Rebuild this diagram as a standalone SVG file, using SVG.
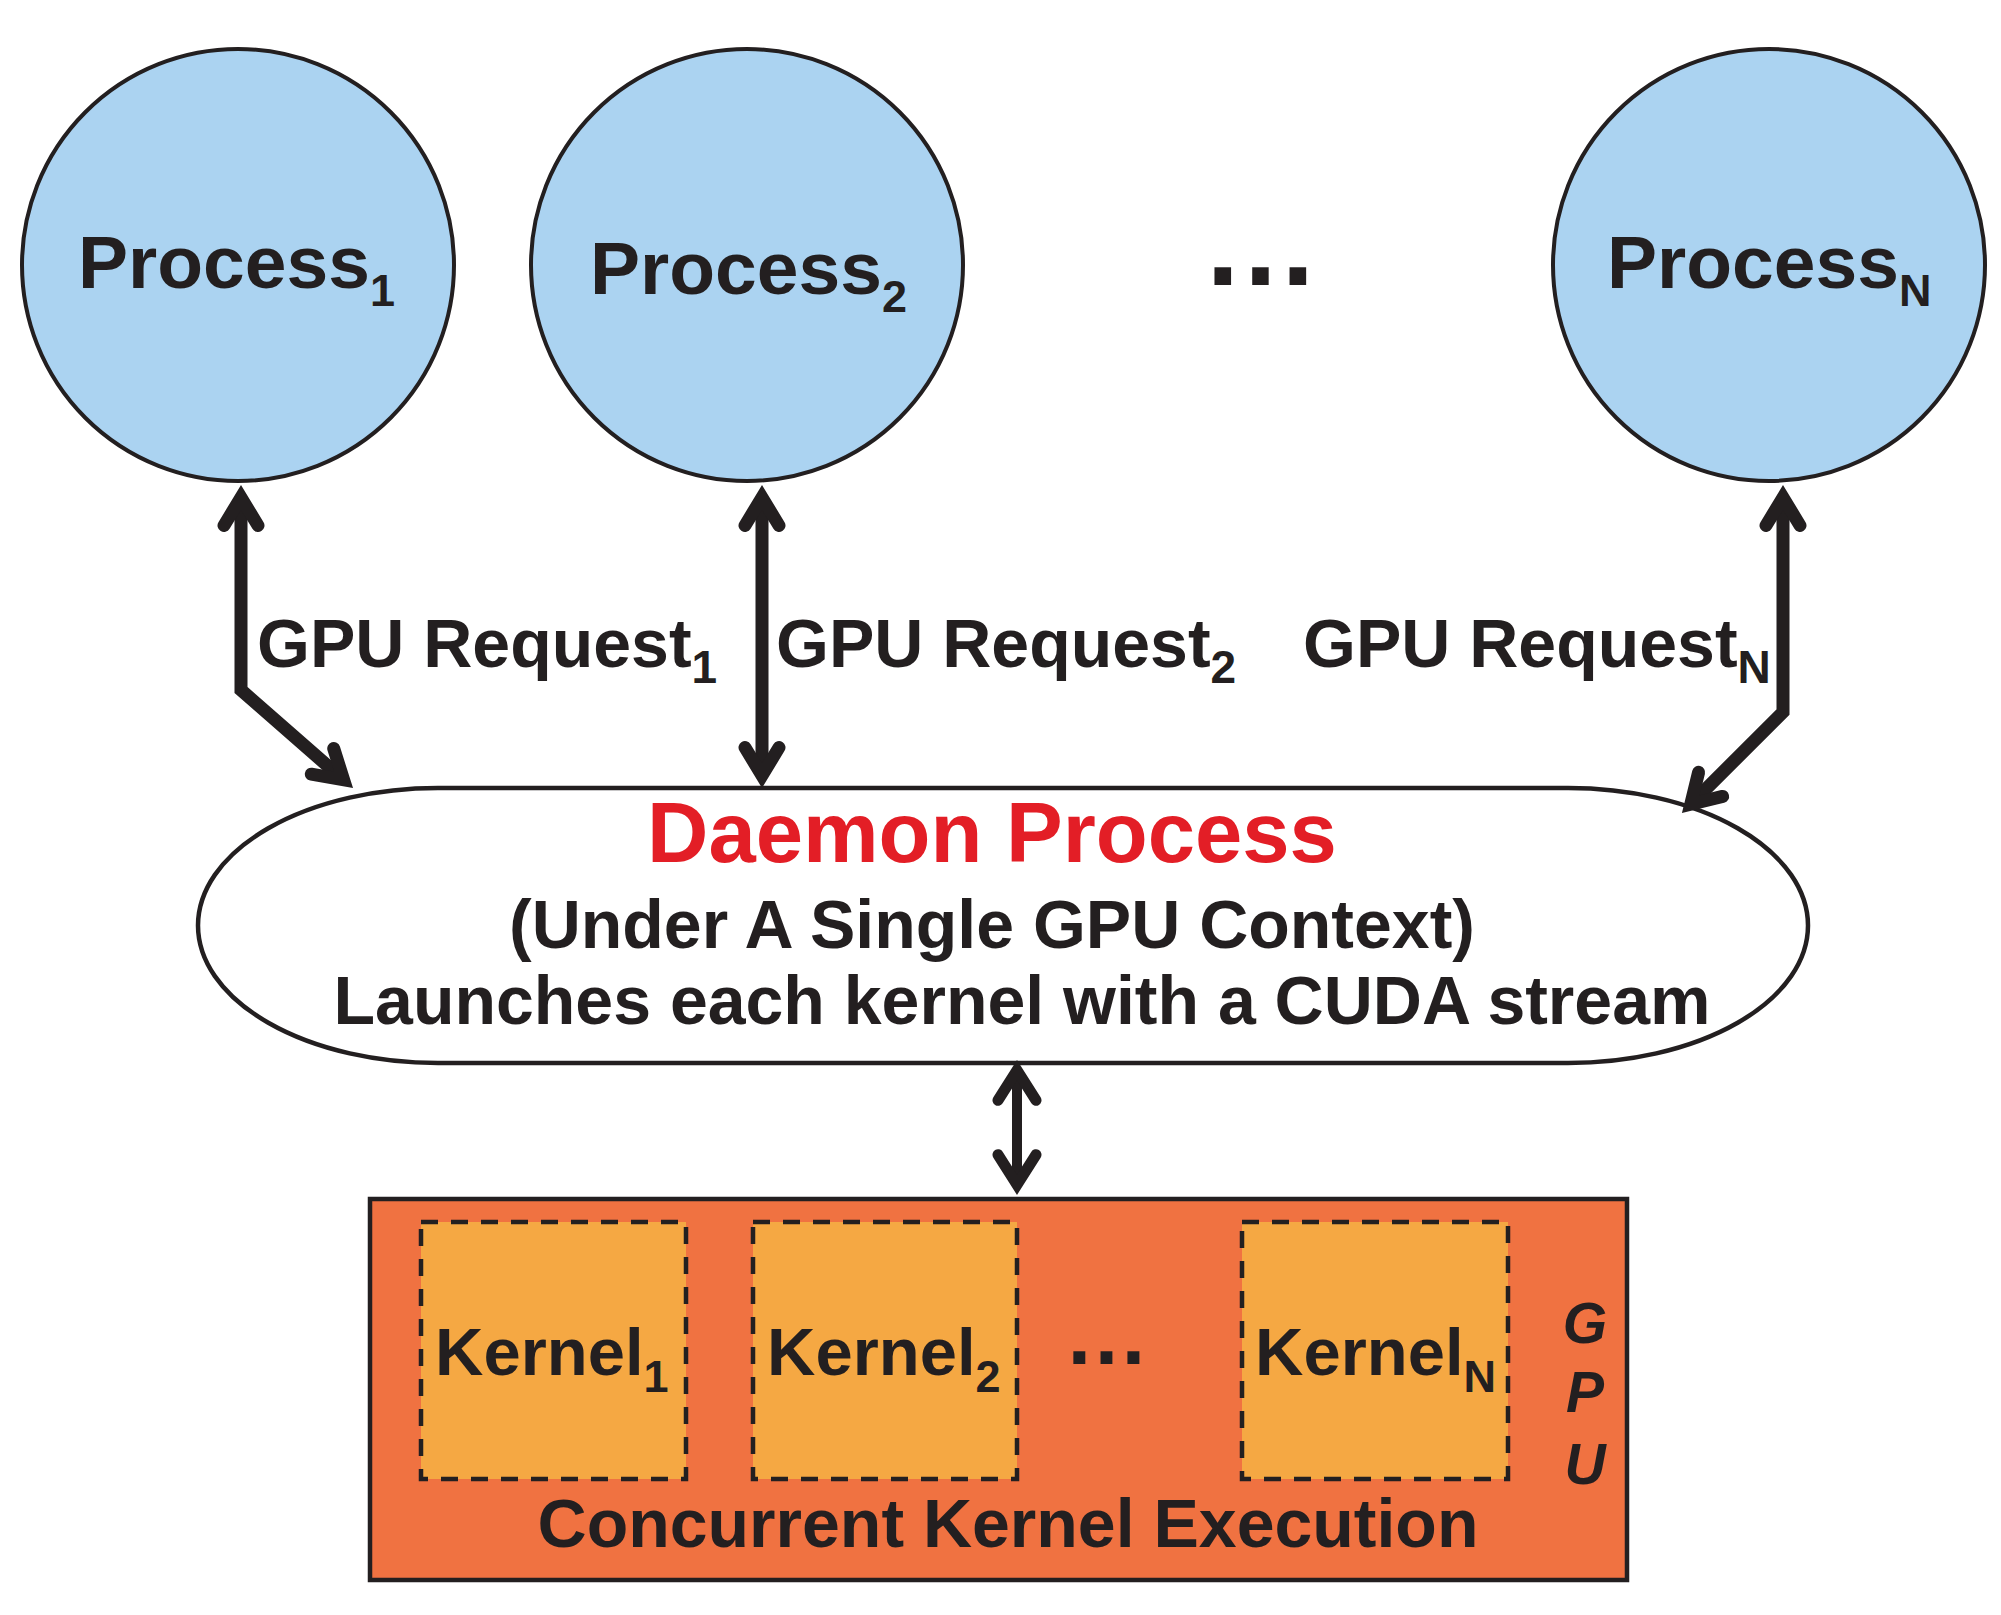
<svg xmlns="http://www.w3.org/2000/svg" width="2001" height="1615" viewBox="0 0 2001 1615">
<style>
text{font-family:"Liberation Sans",Arial,Helvetica,sans-serif;font-weight:bold;fill:#231F20}
.proc{fill:#ABD3F1;stroke:#231F20;stroke-width:4}
.ptxt{font-size:75px}
.psub{font-size:45px}
.req{font-size:68px}
.rsub{font-size:46px}
.conn{fill:none;stroke:#231F20;stroke-linejoin:miter}
.big{stroke-width:13}
.small{stroke-width:10}
.daemon{fill:#FFFFFF;stroke:#231F20;stroke-width:4.5}
.gpu{fill:#F07241;stroke:#231F20;stroke-width:4.5}
.kern{fill:#F5A843;stroke:#231F20;stroke-width:4.5;stroke-dasharray:17 13}
.ktxt{font-size:67px}
.ksub{font-size:45px}
.dtxt{font-size:68px}
</style>
<defs>
<marker id="ahBig" markerUnits="userSpaceOnUse" orient="auto-start-reverse" refX="0" refY="0" markerWidth="80" markerHeight="80" viewBox="-40 -40 80 80" style="overflow:visible">
<path d="M -28 -17 L 0 0 L -28 17" fill="none" stroke="#231F20" stroke-width="13" stroke-linecap="round" stroke-linejoin="miter"/>
</marker>
<marker id="ahSmall" markerUnits="userSpaceOnUse" orient="auto-start-reverse" refX="0" refY="0" markerWidth="80" markerHeight="80" viewBox="-40 -40 80 80" style="overflow:visible">
<path d="M -30 -19 L 0 0 L -30 19" fill="none" stroke="#231F20" stroke-width="11" stroke-linecap="round" stroke-linejoin="miter"/>
</marker>
</defs>
<rect x="0" y="0" width="2001" height="1615" fill="#FFFFFF"/>

<g id="process1">
<circle class="proc" cx="238" cy="265" r="216"/>
<text class="ptxt" x="78" y="288">Process<tspan class="psub" dy="18">1</tspan></text>
</g>
<g id="process2">
<circle class="proc" cx="747" cy="265" r="216"/>
<text class="ptxt" x="590" y="294">Process<tspan class="psub" dy="18">2</tspan></text>
</g>
<g id="processN">
<circle class="proc" cx="1769" cy="265" r="216"/>
<text class="ptxt" x="1607" y="288">Process<tspan class="psub" dy="18">N</tspan></text>
</g>
<g id="ellipsis-top">
<text x="1260.5" y="285" text-anchor="middle" style="font-size:118px">…</text>
</g>

<g id="daemon">
<rect class="daemon" x="198" y="788" width="1610" height="275" rx="240" ry="137.5"/>
<text x="992" y="862" text-anchor="middle" style="font-size:85px;fill:#E31E26">Daemon Process</text>
<text class="dtxt" x="992" y="948" text-anchor="middle">(Under A Single GPU Context)</text>
<text class="dtxt" x="1022" y="1024" text-anchor="middle">Launches each kernel with a CUDA stream</text>
</g>

<g id="gpu">
<rect class="gpu" x="370" y="1199" width="1257" height="381"/>
<text x="1585" y="1343" text-anchor="middle" style="font-size:57px;font-style:italic">G</text>
<text x="1585" y="1412" text-anchor="middle" style="font-size:57px;font-style:italic">P</text>
<text x="1585" y="1484" text-anchor="middle" style="font-size:57px;font-style:italic">U</text>
<text class="dtxt" x="1008" y="1547" text-anchor="middle">Concurrent Kernel Execution</text>
</g>
<g id="kernel1">
<rect class="kern" x="421" y="1222" width="265" height="257"/>
<text class="ktxt" x="435" y="1375">Kernel<tspan class="ksub" dy="17">1</tspan></text>
</g>
<g id="kernel2">
<rect class="kern" x="753" y="1222" width="264" height="257"/>
<text class="ktxt" x="767" y="1375">Kernel<tspan class="ksub" dy="17">2</tspan></text>
</g>
<g id="kernel-ellipsis">
<text x="1106.5" y="1364" text-anchor="middle" style="font-size:85px">…</text>
</g>
<g id="kernelN">
<rect class="kern" x="1242" y="1222" width="266" height="257"/>
<text class="ktxt" x="1255" y="1375">Kernel<tspan class="ksub" dy="17">N</tspan></text>
</g>

<g id="connectors">
<path class="conn big" d="M 241 497.5 L 241 690 L 343.6 779.8" marker-start="url(#ahBig)" marker-end="url(#ahBig)"/>
<path class="conn big" d="M 762 497.5 L 762 775.5" marker-start="url(#ahBig)" marker-end="url(#ahBig)"/>
<path class="conn big" d="M 1783 497.5 L 1783 712 L 1690.8 804.2" marker-start="url(#ahBig)" marker-end="url(#ahBig)"/>
<path class="conn small" d="M 1017 1070.3 L 1017 1184.7" marker-start="url(#ahSmall)" marker-end="url(#ahSmall)"/>
<text class="req" x="257" y="667">GPU Request<tspan class="rsub" dy="16">1</tspan></text>
<text class="req" x="776" y="667">GPU Request<tspan class="rsub" dy="16">2</tspan></text>
<text class="req" x="1303" y="667">GPU Request<tspan class="rsub" dy="16">N</tspan></text>
</g>
</svg>
